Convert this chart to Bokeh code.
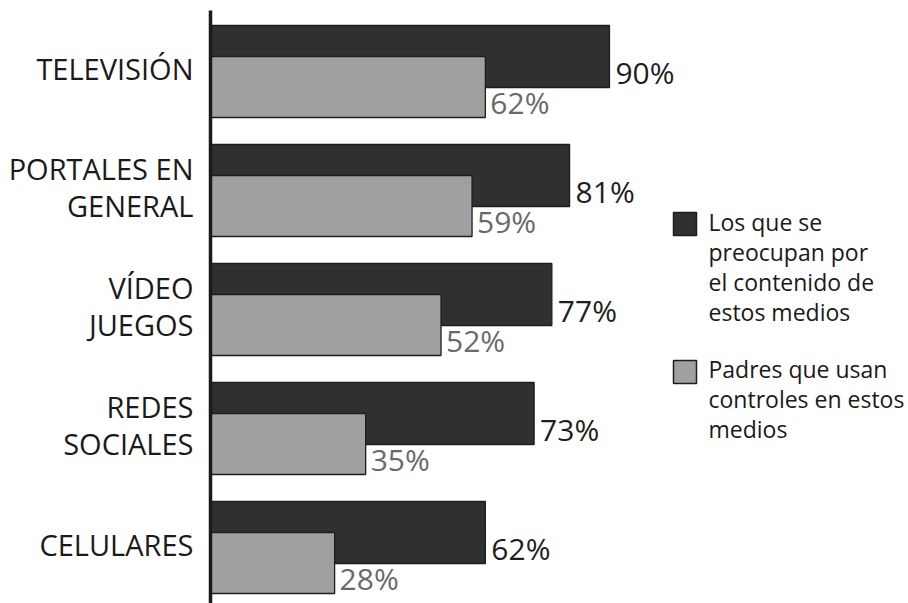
from bokeh.plotting import figure
from bokeh.models import Range1d, ColumnDataSource
from bokeh.core.properties import value
from bokeh.embed import file_html
from bokeh.resources import INLINE

categories = ["TELEVISIÓN", "PORTALES EN\nGENERAL", "VÍDEO\nJUEGOS", "REDES\nSOCIALES", "CELULARES"]
preocupan = [90, 81, 77, 73, 62]
controles = [62, 59, 52, 35, 28]
legend_labels = ["Los que se\npreocupan por\nel contenido de\nestos medios",
                 "Padres que usan\ncontroles en estos\nmedios"]

DARK = "#303030"
GREY = "#a0a0a0"
EDGE = "#1e1e1e"
FONT = value("Open Sans")

W, H = 908, 603
X0 = 210.0      # px of 0%
SX = 4.433      # px per percent
ROW = 119.0     # px per category
Y0 = 56.0       # px centre of first dark bar


def dx(px):
    return (px - X0) / SX


def dy(px):
    return (px - Y0) / ROW


p = figure(width=W, height=H, output_backend="svg", toolbar_location=None,
           x_range=Range1d(dx(0), dx(W)), y_range=Range1d(dy(H), dy(0)),
           x_axis_type=None, y_axis_type=None, min_border=0,
           background_fill_color="white", border_fill_color="white")
p.outline_line_color = None
p.xgrid.visible = False
p.ygrid.visible = False

idx = list(range(len(categories)))
src = ColumnDataSource(dict(
    y=idx,
    yg=[i + 30.5 / ROW for i in idx],
    ydl=[i + 15.5 / ROW for i in idx],
    ygl=[i + 46.0 / ROW for i in idx],
    yc=[i + 11.5 / ROW for i in idx],
    dark=preocupan,
    grey=controles,
    darkx=[v + 6 / SX for v in preocupan],
    greyx=[v + 5 / SX for v in controles],
    darkt=[f"{v}%" for v in preocupan],
    greyt=[f"{v}%" for v in controles],
    cat=categories,
))

p.hbar(y="y", left=0, right="dark", height=62 / ROW, source=src,
       fill_color=DARK, line_color=EDGE, line_width=1.3)
p.hbar(y="yg", left=0, right="grey", height=61 / ROW, source=src,
       fill_color=GREY, line_color=EDGE, line_width=1.3)

p.text(x="darkx", y="ydl", text="darkt", source=src, text_font=FONT,
       text_font_size="30px", text_color="#1e1e1e", text_baseline="alphabetic",
       text_align="left")
p.text(x="greyx", y="ygl", text="greyt", source=src, text_font=FONT,
       text_font_size="30px", text_color="#6a6a6a", text_baseline="alphabetic",
       text_align="left")

p.text(x=dx(193), y="yc", text="cat", source=src, text_font=FONT,
       text_font_size="29px", text_color="#1a1a1a", text_baseline="middle",
       text_align="right", text_line_height=0.94)

# vertical axis line
p.segment(x0=0, y0=dy(10), x1=0, y1=dy(H), line_color="#1a1a1a", line_width=3.5)

# legend
leg = ColumnDataSource(dict(
    x=[dx(684.5), dx(684.5)],
    y=[dy(223.5), dy(371.5)],
    tx=[dx(708), dx(708)],
    ty=[dy(205), dy(352)],
    fill=[DARK, GREY],
    label=legend_labels,
))
p.rect(x="x", y="y", width=23 / SX, height=23 / ROW, source=leg,
       fill_color="fill", line_color=EDGE, line_width=1.5)
p.text(x="tx", y="ty", text="label", source=leg, text_font=FONT,
       text_font_size="23px", text_color="#1a1a1a", text_baseline="top",
       text_align="left", text_line_height=0.94)

open("out.html", "w").write(file_html(p, INLINE))
